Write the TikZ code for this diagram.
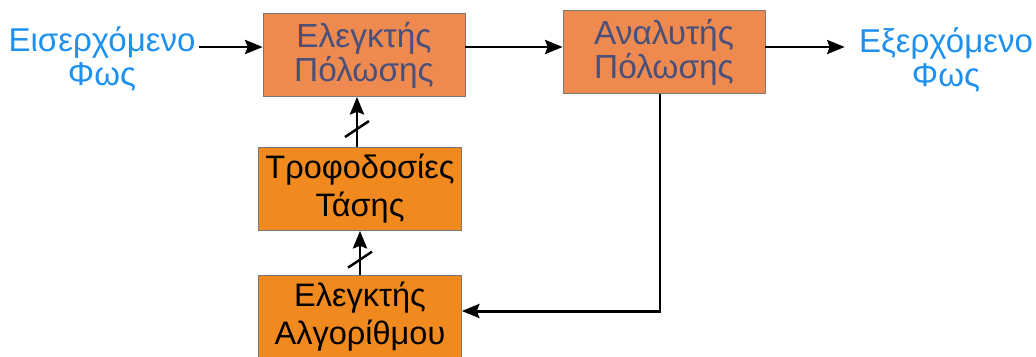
\documentclass[tikz,border=0pt]{standalone}
\usepackage{fontspec}
\setmainfont{Liberation Sans}
\usetikzlibrary{arrows.meta}

\definecolor{lightblue}{RGB}{30,144,240}
\definecolor{polorange}{RGB}{238,138,80}
\definecolor{ctrlorange}{RGB}{240,138,30}
\definecolor{slatetext}{RGB}{74,80,122}
\definecolor{edgegrey}{RGB}{120,120,120}

\tikzset{
    >={Stealth[length=10pt,width=8pt,inset=1.5pt]},
    wire/.style={line width=1.7pt, ->},
    polbox/.style={draw=edgegrey, fill=polorange, text=slatetext, align=center,
        minimum width=4.04cm, minimum height=1.66cm, inner sep=0pt,
        font=\fontsize{19}{17.5}\selectfont},
    ctrlbox/.style={draw=edgegrey, fill=ctrlorange, text=black, align=center,
        minimum width=4.06cm, minimum height=1.66cm, inner sep=0pt,
        font=\fontsize{18.5}{21.5}\selectfont},
    light/.style={text=lightblue, align=center, inner sep=2pt,
        font=\fontsize{18.8}{19.5}\selectfont},
}

\begin{document}
\begin{tikzpicture}[x=0.02cm, y=-0.02cm]
    \useasboundingbox (0,0) rectangle (1036,356);
    \coordinate (lvl) at (0,47);
    \coordinate (fb) at (0,311);

    \node[light] (in) at (102,59) {Εισερχόμενο\\Φως};
    \node[light] (out) at (946,60) {Εξερχόμενο\\Φως};

    \node[polbox] (pc) at (364,55) {Ελεγκτής\\Πόλωσης};
    \node[polbox] (pa) at (664,52) {Αναλυτής\\Πόλωσης};
    \node[ctrlbox] (ts) at (360,189) {Τροφοδοσίες\\Τάσης};
    \node[ctrlbox] (ac) at (360,317) {Ελεγκτής\\Αλγορίθμου};

    \draw[wire] (in.east |- lvl) -- (pc.west |- lvl);
    \draw[wire] (pc.east |- lvl) -- (pa.west |- lvl);
    \draw[wire, shorten >=6pt] (pa.east |- lvl) -- (out.west |- lvl);
    \draw[wire] (pa.south -| 660,0) |- (ac.east |- fb);

    \draw[wire] (ts.north -| 357,0) -- coordinate[pos=0.36] (s1) (pc.south -| 357,0);
    \draw[wire] (ac.north) -- coordinate[pos=0.35] (s2) (ts.south);
    \foreach \s in {s1,s2}
        \draw[line width=1.4pt] (\s) ++(-12,8) -- ++(24,-16);
\end{tikzpicture}
\end{document}
